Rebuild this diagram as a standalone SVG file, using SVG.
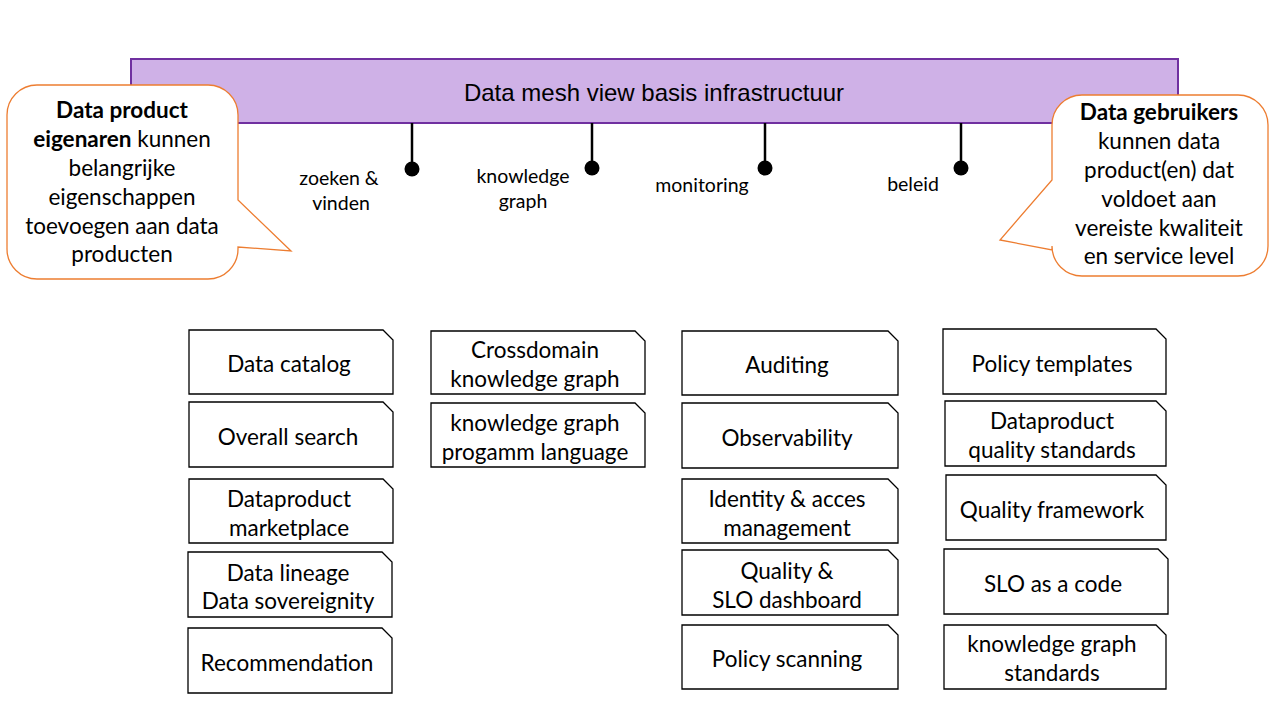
<svg xmlns="http://www.w3.org/2000/svg" width="1280" height="720" viewBox="0 0 1280 720">
<style>
.box{fill:#fff;stroke:#000;stroke-width:1.3}
.t{font-family:Lato,"Liberation Sans",sans-serif;font-size:22.5px;fill:#000;text-anchor:middle}
.lab{font-family:Lato,"Liberation Sans",sans-serif;font-size:19.5px;fill:#000;text-anchor:middle}
.call{fill:#fff;stroke:#ED7D31;stroke-width:1.3}
.con{stroke:#000;stroke-width:2.5;fill:none}
.dot{fill:#000}
.b{font-weight:bold}
</style>
<rect width="1280" height="720" fill="#fff"/>
<g id="banner">
<rect x="131" y="59" width="1047" height="64" fill="#CFB1E7" stroke="#7030A0" stroke-width="2"/>
<text x="654" y="101" text-anchor="middle" font-family="'Liberation Sans',Arial,sans-serif" font-size="24">Data mesh view basis infrastructuur</text>
</g>
<g id="connectors">
<line class="con" x1="412" y1="123" x2="412" y2="169"/><circle class="dot" cx="412" cy="169" r="7.5"/>
<line class="con" x1="592" y1="123" x2="592" y2="168"/><circle class="dot" cx="592" cy="168" r="7.5"/>
<line class="con" x1="765" y1="123" x2="765" y2="168"/><circle class="dot" cx="765" cy="168" r="7.5"/>
<line class="con" x1="961" y1="123" x2="961" y2="168"/><circle class="dot" cx="961" cy="168" r="7.5"/>
</g>
<g id="labels">
<text class="lab" x="339" y="185">zoeken &amp;</text>
<text class="lab" x="341" y="210">vinden</text>
<text class="lab" x="523" y="183">knowledge</text>
<text class="lab" x="523" y="208">graph</text>
<text class="lab" x="702" y="192">monitoring</text>
<text class="lab" x="913" y="191">beleid</text>
</g>
<g id="callout-owners">
<path class="call" d="M37,85 H208 A30,30 0 0 1 238,115 V200 L291,251 L238,247 V249 A30,30 0 0 1 208,279 H37 A30,30 0 0 1 7,249 V115 A30,30 0 0 1 37,85 Z"/>
<text class="t" x="122" y="118"><tspan class="b">Data product</tspan></text>
<text class="t" x="122" y="147"><tspan class="b">eigenaren</tspan> kunnen</text>
<text class="t" x="122" y="176">belangrijke</text>
<text class="t" x="122" y="205">eigenschappen</text>
<text class="t" x="122" y="234">toevoegen aan data</text>
<text class="t" x="122" y="262">producten</text>
</g>
<g id="callout-users">
<path class="call" d="M1082,95 H1238 A30,30 0 0 1 1268,125 V246 A30,30 0 0 1 1238,276 H1082 A30,30 0 0 1 1052,246 V250 L1000,240 L1052,180 V125 A30,30 0 0 1 1082,95 Z"/>
<text class="t" x="1159" y="120"><tspan class="b">Data gebruikers</tspan></text>
<text class="t" x="1159" y="149">kunnen data</text>
<text class="t" x="1159" y="178">product(en) dat</text>
<text class="t" x="1159" y="207">voldoet aan</text>
<text class="t" x="1159" y="236">vereiste kwaliteit</text>
<text class="t" x="1159" y="264">en service level</text>
</g>
<g id="n-data-catalog"><path class="box" d="M189,330 H383 L393,340 V394 H189 Z"/><text class="t" x="289" y="372">Data catalog</text></g>
<g id="n-overall-search"><path class="box" d="M189,402 H383 L393,412 V467 H189 Z"/><text class="t" x="288" y="445">Overall search</text></g>
<g id="n-marketplace"><path class="box" d="M189,479 H383 L393,489 V543 H189 Z"/><text class="t" x="289" y="507">Dataproduct</text><text class="t" x="289" y="536">marketplace</text></g>
<g id="n-lineage"><path class="box" d="M188,552 H382 L392,562 V617 H188 Z"/><text class="t" x="288" y="581">Data lineage</text><text class="t" x="288" y="609">Data sovereignity</text></g>
<g id="n-recommendation"><path class="box" d="M188,628 H382 L392,638 V693 H188 Z"/><text class="t" x="287" y="671">Recommendation</text></g>
<g id="n-crossdomain"><path class="box" d="M431,331 H635 L645,341 V394 H431 Z"/><text class="t" x="535" y="358">Crossdomain</text><text class="t" x="535" y="387">knowledge graph</text></g>
<g id="n-kg-language"><path class="box" d="M431,403 H635 L645,413 V467 H431 Z"/><text class="t" x="535" y="431">knowledge graph</text><text class="t" x="535" y="460">progamm language</text></g>
<g id="n-auditing"><path class="box" d="M682,331 H888 L898,341 V395 H682 Z"/><text class="t" x="787" y="373">Auditing</text></g>
<g id="n-observability"><path class="box" d="M682,403 H888 L898,413 V468 H682 Z"/><text class="t" x="787" y="446">Observability</text></g>
<g id="n-identity"><path class="box" d="M682,479 H888 L898,489 V543 H682 Z"/><text class="t" x="787" y="507">Identity &amp; acces</text><text class="t" x="787" y="536">management</text></g>
<g id="n-slo-dashboard"><path class="box" d="M682,550 H888 L898,560 V615 H682 Z"/><text class="t" x="787" y="579">Quality &amp;</text><text class="t" x="787" y="608">SLO dashboard</text></g>
<g id="n-policy-scanning"><path class="box" d="M682,625 H888 L898,635 V689 H682 Z"/><text class="t" x="787" y="667">Policy scanning</text></g>
<g id="n-policy-templates"><path class="box" d="M943,329 H1156 L1166,339 V394 H943 Z"/><text class="t" x="1052" y="372">Policy templates</text></g>
<g id="n-quality-standards"><path class="box" d="M945,401 H1156 L1166,411 V466 H945 Z"/><text class="t" x="1052" y="429">Dataproduct</text><text class="t" x="1052" y="458">quality standards</text></g>
<g id="n-quality-framework"><path class="box" d="M946,475 H1156 L1166,485 V540 H946 Z"/><text class="t" x="1052" y="518">Quality framework</text></g>
<g id="n-slo-code"><path class="box" d="M944,549 H1158 L1168,559 V614 H944 Z"/><text class="t" x="1053" y="592">SLO as a code</text></g>
<g id="n-kg-standards"><path class="box" d="M944,625 H1156 L1166,635 V689 H944 Z"/><text class="t" x="1052" y="652">knowledge graph</text><text class="t" x="1052" y="681">standards</text></g>
</svg>
